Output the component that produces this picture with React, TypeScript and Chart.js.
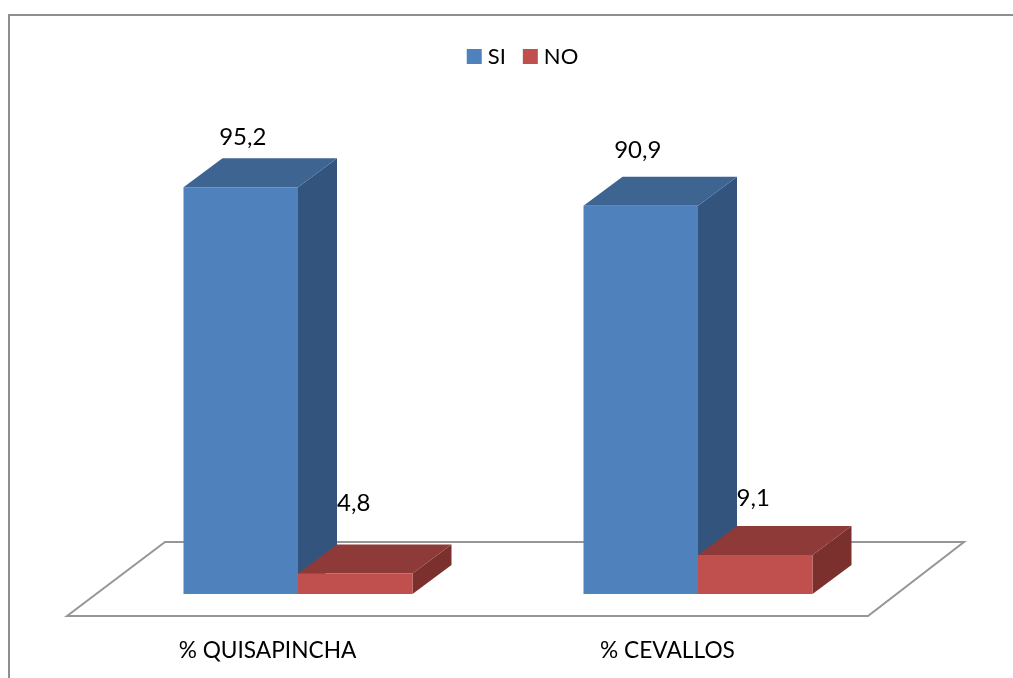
import React, { useEffect, useRef } from "react";
import { Chart, registerables } from "chart.js";

Chart.register(...registerables);

const categories = ["% QUISAPINCHA", "% CEVALLOS"];
const seriesNames = ["SI", "NO"];
const siValues = [95.2, 90.9];
const noValues = [4.8, 9.1];

const frontColors = ["#4F81BD", "#C0504D"];
const topColors = ["#3E6492", "#8E3A38"];
const sideColors = ["#33557D", "#7C302E"];
// hand-placed label offsets from each bar's top centre, as in the source [dx, dy]
const labelOffsets = [
  [[2, -50], [-3, -55]],
  [[-1.5, -70], [-2, -57]],
];

const FONT = "Lato";
const DEPTH_X = 39;
const DEPTH_Y = 29;

function poly(ctx: CanvasRenderingContext2D, pts: number[][], fill: string) {
  ctx.fillStyle = fill;
  ctx.beginPath();
  pts.forEach((p, i) => (i ? ctx.lineTo(p[0], p[1]) : ctx.moveTo(p[0], p[1])));
  ctx.closePath();
  ctx.fill();
}

const scene3d = {
  id: "scene3d",
  afterLayout(chart: any) {
    // the source legend sits right of the plot centre
    chart.legend.left += 27;
    chart.legend.right += 27;
  },
  beforeDatasetsDraw(chart: any) {
    const { ctx, chartArea: a, width, height } = chart;
    ctx.save();
    // outer frame, cut by the picture's right and bottom edges
    ctx.strokeStyle = "#8E8E8E";
    ctx.lineWidth = 2;
    ctx.beginPath();
    ctx.moveTo(9, height);
    ctx.lineTo(9, 15);
    ctx.lineTo(width, 15);
    ctx.stroke();
    // floor
    ctx.strokeStyle = "#969696";
    ctx.beginPath();
    ctx.moveTo(a.left - 31, a.bottom + 22);
    ctx.lineTo(a.left + 67, a.bottom - 52);
    ctx.lineTo(a.right + 66, a.bottom - 52);
    ctx.lineTo(a.right - 30, a.bottom + 22);
    ctx.closePath();
    ctx.stroke();
    // depth faces
    chart.data.datasets.forEach((_: any, di: number) => {
      chart.getDatasetMeta(di).data.forEach((bar: any) => {
        const l = bar.x - bar.width / 2;
        const r = bar.x + bar.width / 2;
        const t = bar.y;
        const b = bar.base;
        poly(ctx, [[r, t], [r + DEPTH_X, t - DEPTH_Y], [r + DEPTH_X, b - DEPTH_Y], [r, b]], sideColors[di]);
        poly(ctx, [[l, t], [l + DEPTH_X, t - DEPTH_Y], [r + DEPTH_X, t - DEPTH_Y], [r, t]], topColors[di]);
      });
    });
    ctx.restore();
  },
  afterDatasetsDraw(chart: any) {
    const { ctx } = chart;
    ctx.save();
    ctx.fillStyle = "#000";
    ctx.font = `24px ${FONT}`;
    ctx.textAlign = "center";
    ctx.textBaseline = "middle";
    chart.data.datasets.forEach((ds: any, di: number) => {
      chart.getDatasetMeta(di).data.forEach((bar: any, i: number) => {
        const off = labelOffsets[di][i];
        ctx.fillText(String(ds.data[i]).replace(".", ","), bar.x + off[0], bar.y + off[1]);
      });
    });
    ctx.restore();
  },
};

export default function App() {
  const ref = useRef<HTMLCanvasElement>(null);
  useEffect(() => {
    const chart = new Chart(ref.current!, {
      type: "bar",
      data: {
        labels: categories,
        datasets: [
          { label: seriesNames[0], data: siValues, backgroundColor: frontColors[0], borderColor: frontColors[0], borderWidth: 0 },
          { label: seriesNames[1], data: noValues, backgroundColor: frontColors[1], borderColor: frontColors[1], borderWidth: 0 },
        ],
      },
      plugins: [scene3d],
      options: {
        animation: false,
        responsive: false,
        devicePixelRatio: 1,
        layout: { padding: { left: 98, right: 115, top: 23.5, bottom: 0 } },
        datasets: { bar: { categoryPercentage: 0.5725, barPercentage: 1 } },
        plugins: {
          tooltip: { enabled: false },
          legend: {
            display: true,
            position: "top",
            labels: {
              boxWidth: 5,
              boxHeight: 5,
              padding: 22,
              color: "#000",
              font: { family: FONT, size: 22 },
              generateLabels: (c: any) =>
                c.data.datasets.map((d: any, i: number) => ({
                  text: d.label,
                  fillStyle: frontColors[i],
                  strokeStyle: frontColors[i],
                  lineWidth: 10,
                  datasetIndex: i,
                  fontColor: "#000",
                })),
            },
          },
        },
        scales: {
          x: {
            grid: { display: false, drawTicks: false },
            border: { display: false },
            ticks: { padding: 43, labelOffset: -30.5, color: "#000", font: { family: FONT, size: 22.7 }, maxRotation: 0 },
            afterFit: (s: any) => {
              s.height = 84;
              s.paddingBottom = 0;
            },
          },
          y: { display: false, min: 0, max: 120.9 },
        },
      },
    } as any);
    return () => chart.destroy();
  }, []);
  return (
    <canvas
      ref={ref}
      width={1013}
      height={678}
      style={{ position: "absolute", left: 0, top: 0, width: 1013, height: 678, display: "block", background: "#fff" }}
    />
  );
}
